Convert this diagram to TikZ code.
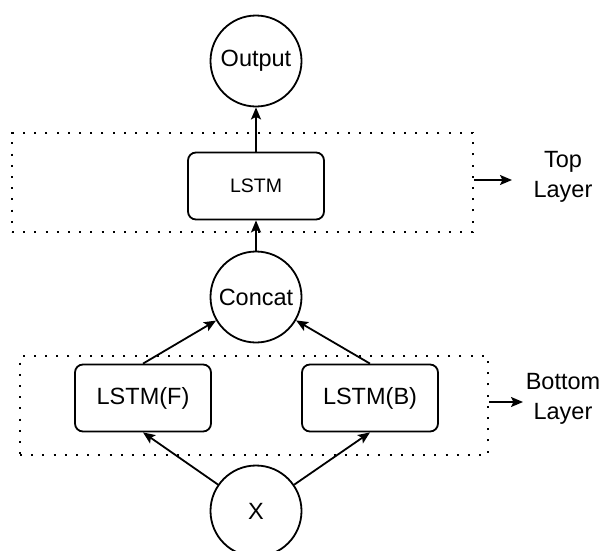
\documentclass[tikz,border=0pt]{standalone}
\usepackage{fontspec}
\setmainfont{Liberation Sans}
\usepackage{tikz}
\usetikzlibrary{arrows.meta, positioning}

\begin{document}
\begin{tikzpicture}[
  x=1pt, y=-1pt,
  cell/.style={draw, line width=1.8pt, rounded corners=8pt, minimum width=136pt, minimum height=67pt, align=center, font=\fontsize{23.5}{28}\selectfont},
  op/.style={draw, circle, line width=1.8pt, minimum size=91pt, inner sep=0pt, font=\fontsize{23.5}{28}\selectfont},
  layer/.style={draw, line width=1.8pt, dash pattern=on 2pt off 9.2pt, inner sep=0pt},
  tag/.style={align=center, font=\fontsize{23.5}{30}\selectfont},
  >={Stealth[length=12pt, width=10pt, inset=2.5pt]}, line width=1.8pt
]
\useasboundingbox (0,0) rectangle (605,550);

\node[op] (out) at (256,61) {Output};
\node[cell, font=\fontsize{19.5}{24}\selectfont] (lstm) at (256,186) {LSTM};
\node[op] (concat) at (256,297) {Concat};
\node[cell] (lstmf) at (143,398) {LSTM(F)};
\node[cell] (lstmb) at (370,398) {LSTM(B)};
\node[op] (x) at (256,511) {X};

\node[layer, minimum width=461pt, minimum height=99pt] (topbox) at (242.5,182.5) {};
\node[layer, minimum width=468pt, minimum height=99pt] (botbox) at (254,405.5) {};

\coordinate (toptip) at (512,180);
\coordinate (bottip) at (523,402);
\node[tag] (toptag) at (563,177) {Top\\Layer};
\node[tag] (bottag) at (563,399) {Bottom\\Layer};

\draw[->] (x) -- (lstmf.south);
\draw[->] (x) -- (lstmb.south);
\draw[->] (lstmf.north) -- (concat);
\draw[->] (lstmb.north) -- (concat);
\draw[->] (concat) -- (lstm);
\draw[->] (lstm) -- (out);
\draw[->] (topbox.east |- toptip) -- (toptip);
\draw[->] (botbox.east |- bottip) -- (bottip);
\end{tikzpicture}
\end{document}
